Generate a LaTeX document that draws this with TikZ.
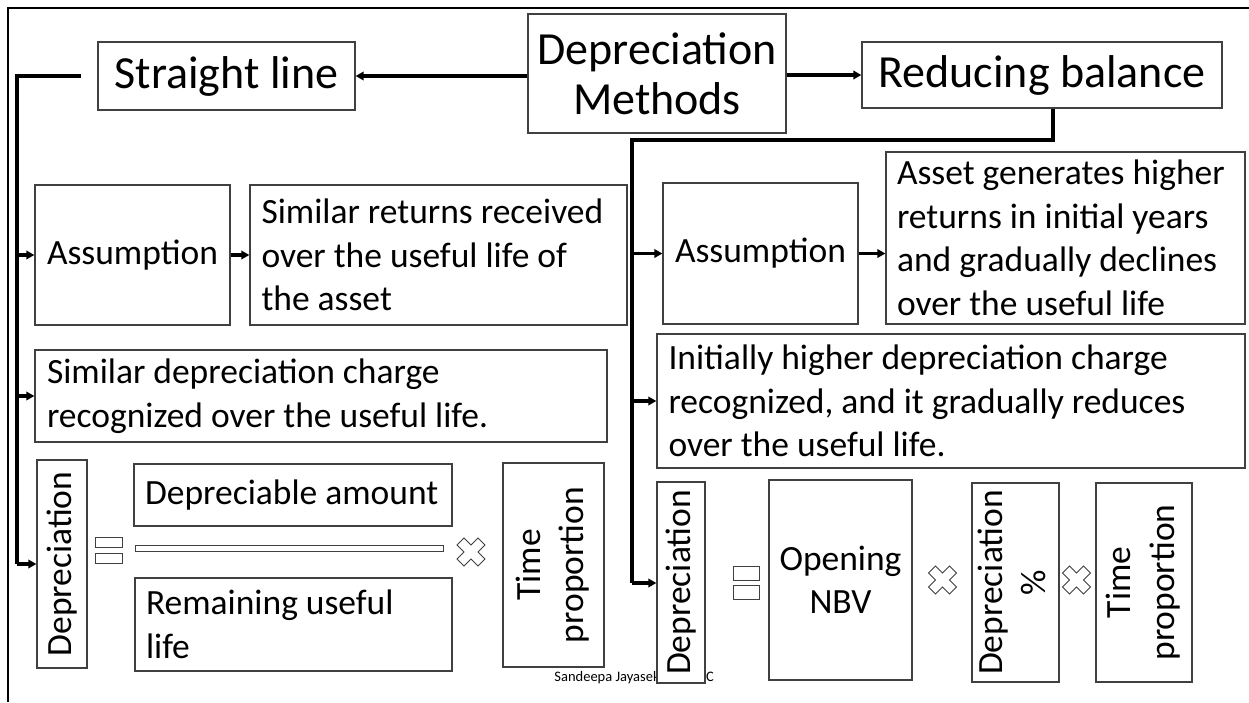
\documentclass[tikz,border=0pt]{standalone}
\usepackage{fontspec}
\setmainfont{Carlito}
\usetikzlibrary{arrows.meta}
\definecolor{boxgray}{HTML}{404040}
\newcommand{\bodyfont}{\fontsize{35.5}{43.5}\selectfont}
\newcommand{\titlefont}{\fontsize{46}{50}\selectfont}
\newcommand{\ws}{\spaceskip=0.226em\relax\xspaceskip=0.226em\relax}
\newcommand{\multsign}[1]{\draw[boxgray, line width=1pt, fill=white] (#1) ++(0,-7) -- ++(7,-7) -- ++(7,7) -- ++(-7,7) -- ++(7,7) -- ++(-7,7) -- ++(-7,-7) -- ++(-7,7) -- ++(-7,-7) -- ++(7,-7) -- ++(-7,-7) -- ++(7,-7) -- cycle;}
\begin{document}
\begin{tikzpicture}[x=1pt,y=-1pt,
  box/.style={draw=boxgray, line width=1.3pt, fill=white, inner sep=0pt, font=\bodyfont, text=black},
  ltext/.style={align=left},
  conn/.style={line width=3.2pt, black},
  arr/.style={conn, -{Triangle[length=8pt,width=8.5pt]}}]
\useasboundingbox (0,0) rectangle (1249,702);
% frame
\draw[line width=2.5pt] (8,702) -- (8,8) -- (1249,8);

% top level
\node[box, font=\titlefont, minimum width=258pt, minimum height=119pt, align=center] (DM) at (657,73.5) {Depreciation\\Methods};
\node[box, font=\titlefont, minimum width=257pt, minimum height=68pt] (SL) at (226.5,76) {Straight line};
\node[box, font=\titlefont, minimum width=360pt, minimum height=66pt] (RB) at (1042,75) {Reducing balance};
\draw[arr] (DM.west |- SL.east) -- (SL.east);
\draw[arr] (DM.east |- RB.west) -- (RB.west);

% footer (partly hidden)
\node[font=\fontsize{14.5}{16}\selectfont, anchor=base east, inner sep=0pt] (foot) at (714,681) {Sandeepa Jayasekara - JMC};

% left branch
\node[box, minimum width=195pt, minimum height=140pt] (AL) at (132.5,255) {Assumption};
\node[box, ltext, minimum width=377pt, minimum height=140pt, text width=354pt] (SR) at (438.5,255) {\ws Similar returns received\\over the useful life of\\the asset};
\node[box, ltext, minimum width=572pt, minimum height=92pt, text width=548pt] (SD) at (321,396) {\ws Similar depreciation charge\\recognized over the useful life.};
\node[box, minimum width=50pt, minimum height=208pt] (DL) at (62,564) {\rotatebox{90}{Depreciation}};
\node[box, line width=1pt, minimum width=27pt, minimum height=10pt] (eqL1) at (108.5,542) {};
\node[box, line width=1pt, minimum width=27pt, minimum height=10pt] (eqL2) at (108.5,558) {};
\node[box, ltext, minimum width=318pt, minimum height=62pt, text width=296pt] (DA) at (293,495) {\ws Depreciable amount};
\node[box, line width=1pt, minimum width=308pt, minimum height=6pt] (bar) at (289,548) {};
\node[box, ltext, minimum width=317pt, minimum height=93pt, text width=295pt] (RU) at (293.5,624.5) {\ws Remaining useful\\life};
\multsign{471,552}
\node[box, minimum width=101pt, minimum height=204pt] (TL) at (553.5,565) {\rotatebox{90}{\begin{tabular}{@{}c@{}}Time\\proportion\end{tabular}}};

\coordinate (LT) at (17,76);
\coordinate (LB) at (17,564);
\draw[conn] ([xshift=-16pt]SL.west) -- (LT) -- (LB);
\draw[arr] (LT |- AL.west) -- (AL.west);
\draw[arr] (LT |- SD.west) -- (SD.west);
\draw[arr] (LB) -- (DL.west);
\draw[arr] (AL.east) -- (SR.west);

% right branch
\node[box, minimum width=195pt, minimum height=141pt] (AR) at (760.5,253.5) {Assumption};
\node[box, ltext, minimum width=359pt, minimum height=172pt, text width=337pt] (AG) at (1065.5,238) {\ws Asset generates higher\\returns in initial years\\and gradually declines\\over the useful life};
\node[box, ltext, minimum width=588pt, minimum height=134pt, text width=565pt] (IH) at (951,401) {\ws Initially higher depreciation charge\\recognized, and it gradually reduces\\over the useful life.};
\node[box, minimum width=48pt, minimum height=201pt] (DR) at (681,582.5) {\rotatebox{90}{Depreciation}};
\node[box, line width=1pt, minimum width=26pt, minimum height=14pt] (eqR1) at (746,573) {};
\node[box, line width=1pt, minimum width=26pt, minimum height=14pt] (eqR2) at (746,592) {};
\node[box, minimum width=143pt, minimum height=200pt, align=center] (ON) at (840.5,580) {Opening\\NBV};
\multsign{942.5,580}
\node[box, minimum width=85pt, minimum height=199pt] (DP) at (1015.5,582.5) {\rotatebox{90}{\begin{tabular}{@{}c@{}}Depreciation\\\%\end{tabular}}};
\multsign{1076.5,580}
\node[box, minimum width=96pt, minimum height=199pt] (TR) at (1144,582.5) {\rotatebox{90}{\begin{tabular}{@{}c@{}}Time\\proportion\end{tabular}}};

\coordinate (RJ) at (1053,140);
\coordinate (RK) at (632,140);
\coordinate (RL) at (632,583);
\draw[conn] ([xshift=11pt]RB.south) -- (RJ) -- (RK) -- (RL);
\draw[arr] (RK |- AR.west) -- (AR.west);
\draw[arr] (RK |- IH.west) -- (IH.west);
\draw[arr] (RL) -- (DR.west |- RL);
\draw[arr] (AR.east) -- (AG.west |- AR.east);
\end{tikzpicture}
\end{document}
